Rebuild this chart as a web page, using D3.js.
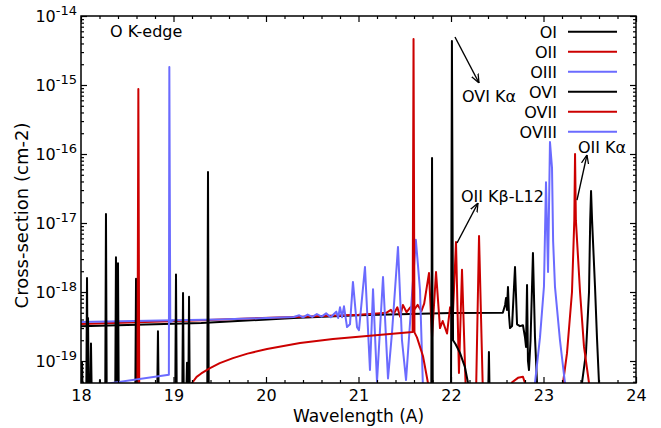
<!DOCTYPE html>
<html>
<head>
<meta charset="utf-8">
<script src="https://cdn.jsdelivr.net/npm/d3@7"></script>
<style>
body { margin: 0; background: #fff; }
text { font-family: "DejaVu Sans", sans-serif; fill: #000; }
</style>
</head>
<body>
<div id="chart"></div>
<script>
// ---- data ----
const seriesNames = ["OI", "OII", "OIII", "OVI", "OVII", "OVIII"];
const seriesColors = ["#000000", "#cc0000", "#6b6bff", "#000000", "#cc0000", "#6b6bff"];
const xTicks = [18, 19, 20, 21, 22, 23, 24];
const yTickExp = [-19, -18, -17, -16, -15, -14];
const floorValue = 3e-20; // below the plotted range

const oI = [[18.0, 3.2e-19], [19.3, 3.55e-19], [20.3, 4.2e-19], [21.0, 4.6e-19], [22.0, 4.97e-19], [22.56, 5.0e-19],
    [22.585, 6.5e-19], [22.595, 8.2e-19], [22.605, 5.5e-19], [22.616, 1.18e-18], [22.627, 4.6e-19], [22.638, 3.0e-19],
    [22.66, 3.2e-19], [22.692, 2.3e-18], [22.714, 3.4e-19], [22.746, 3.2e-19], [22.778, 3.3e-19], [22.80, 2.2e-19],
    [22.811, 1.6e-19], [22.822, 1.26e-18], [22.832, 1.0e-19], [22.843, 7.4e-20], [22.86, 2.0e-19], [22.886, 3.67e-18],
    [22.908, 2.2e-19], [22.93, 4.8e-20], [22.95, 3e-20], [23.40, 3e-20], [23.416, 4.8e-20], [23.459, 1.3e-19],
    [23.492, 1.0e-18], [23.505, 1.1e-17], [23.514, 2.9e-17], [23.525, 1.1e-17], [23.557, 1.18e-18], [23.578, 2.2e-19],
    [23.6, 4.8e-20], [23.62, 3e-20], [24, 3e-20]];

const oII = [[18.0, 3.44e-19], [19.3, 3.9e-19], [20.3, 4.35e-19], [21.0, 4.7e-19], [21.2, 4.9e-19], [21.3, 5.0e-19],
    [21.35, 5.5e-19], [21.38, 4.8e-19], [21.42, 6.0e-19], [21.45, 4.4e-19], [21.48, 6.5e-19], [21.52, 5.1e-19],
    [21.56, 6.0e-19], [21.60, 5.5e-19], [21.64, 6.5e-19], [21.68, 5.3e-19], [21.71, 6.8e-19], [21.762, 1.88e-18],
    [21.795, 2.2e-19], [21.838, 1.95e-18], [21.881, 3.0e-19], [21.91, 3.8e-19], [21.957, 2.5e-19], [21.99, 6.0e-19],
    [22.02, 4.5e-19], [22.054, 5.3e-18], [22.086, 6.7e-20], [22.119, 2.1e-18], [22.162, 3e-20], [22.27, 3e-20],
    [22.303, 6.5e-18], [22.346, 3e-20], [23.19, 3e-20], [23.211, 4.8e-20], [23.254, 1.3e-19], [23.308, 1.0e-18],
    [23.333, 1.1e-17], [23.341, 1.0e-16], [23.35, 1.1e-17], [23.395, 1.0e-18], [23.438, 1.6e-19], [23.492, 4.8e-20],
    [23.52, 3e-20], [24, 3e-20]];

const oIII = [[18.0, 3.67e-19], [19.0, 3.9e-19], [19.5, 4.0e-19], [20.0, 4.2e-19], [20.3, 4.35e-19], [20.36, 4.6e-19],
    [20.4, 4.3e-19], [20.45, 4.7e-19], [20.5, 4.35e-19], [20.55, 4.8e-19], [20.6, 4.4e-19], [20.65, 4.9e-19],
    [20.7, 4.3e-19], [20.724, 4.64e-19], [20.76, 5.2e-19], [20.78, 4.2e-19], [20.8, 6.0e-19], [20.822, 4.3e-19],
    [20.843, 6.2e-19], [20.876, 3.1e-19], [20.908, 3.4e-19], [20.94, 1.4e-18], [20.984, 3.1e-19], [21.005, 2.8e-19],
    [21.07, 2.3e-18], [21.124, 7.4e-20], [21.157, 1.1e-18], [21.2, 5e-20], [21.265, 1.65e-18], [21.319, 5.6e-20],
    [21.362, 2.55e-19], [21.427, 4.5e-18], [21.47, 2.0e-19], [21.514, 5.3e-20], [21.62, 5.7e-18], [21.665, 1.07e-18],
    [21.70, 3e-20], [22.90, 3e-20], [22.908, 4.8e-20], [22.962, 2.2e-19], [23.005, 1.2e-18], [23.027, 3.9e-17],
    [23.049, 1.95e-18], [23.07, 1.49e-16], [23.092, 6.3e-17], [23.104, 5.5e-18], [23.124, 1.2e-18], [23.178, 2.0e-19],
    [23.232, 4.8e-20], [23.26, 3e-20], [24, 3e-20]];

// OVI: narrow lines (position, peak) plus the K-alpha line with its wing
const oviLines = [18.011, 18.065, 18.076, 18.108, 18.205, 18.27, 18.378, 18.40, 18.595, 18.832,
    19.027, 19.103, 19.146, 19.168, 19.373, 21.795, 22.41];
const oviPeaks = [9.7e-20, 1.6e-18, 4.2e-19, 1.8e-19, 5.3e-20, 1.35e-17, 3.2e-18, 2.6e-18, 1.55e-18, 2.7e-19,
    1.8e-18, 9.7e-19, 9.4e-20, 8.5e-19, 5.5e-17, 8.75e-17, 1.35e-19];
const oviKa = [[22.0, 3e-20], [22.01, 4.35e-15], [22.022, 2.0e-19], [22.05, 1.75e-19], [22.097, 1.31e-19],
    [22.15, 8.2e-20], [22.184, 4.8e-20], [22.2, 3e-20]];

const oVII = [[18.61, 3e-20], [18.62, 8.75e-16], [18.63, 3e-20], [19.18, 3e-20], [19.2, 4.8e-20], [19.25, 5.9e-20],
    [19.3, 6.6e-20], [19.395, 7.9e-20], [19.5, 9.3e-20], [19.643, 1.1e-19], [19.8, 1.28e-19], [20.011, 1.49e-19],
    [20.368, 1.82e-19], [20.724, 2.08e-19], [21.092, 2.3e-19], [21.585, 2.63e-19], [21.595, 4.64e-15], [21.605, 2.6e-19],
    [21.632, 2.2e-19], [21.697, 1.18e-19], [21.751, 4.8e-20], [21.77, 3e-20], [22.64, 3e-20], [22.66, 4.9e-20],
    [22.724, 5.7e-20], [22.778, 5.9e-20], [22.80, 4.8e-20], [22.82, 3e-20]];

const oVIII = [[18.28, 4.7e-20], [18.95, 6.3e-20], [18.955, 1.82e-15], [18.965, 3.67e-19], [19.0, 3.9e-19]];

const notes = [
    { text: "O K-edge", x: 18.314, y: 4.97e-15 },
    { text: "OVI Kα", x: 22.119, y: 5.68e-16 },
    { text: "OII Kβ-L12", x: 22.108, y: 2.01e-17 },
    { text: "OII Kα", x: 23.373, y: 1.03e-16 }
];
const arrows = [
    { x1: 22.043, y1: 4.97e-15, x2: 22.303, y2: 1.07e-15 },
    { x1: 22.065, y1: 5.13e-18, x2: 22.292, y2: 1.95e-17 },
    { x1: 23.362, y1: 2.15e-17, x2: 23.47, y2: 9.7e-17 }
];

// ---- layout ----
const margin = { top: 16, right: 25, bottom: 45, left: 81 };
const width = 661 - margin.left - margin.right;
const height = 428 - margin.top - margin.bottom;

const svg = d3.select("#chart")
    .append("svg")
    .attr("width", 661)
    .attr("height", 428);

const defs = svg.append("defs");
defs.append("clipPath").attr("id", "clip")
    .append("rect").attr("width", width).attr("height", height);
defs.append("marker")
    .attr("id", "arrow")
    .attr("viewBox", "0 0 10 10")
    .attr("refX", 10).attr("refY", 5)
    .attr("markerWidth", 9).attr("markerHeight", 9)
    .attr("markerUnits", "userSpaceOnUse")
    .attr("orient", "auto")
    .append("path")
    .attr("d", "M0,1 L10,5 L0,9")
    .attr("fill", "none")
    .attr("stroke", "#000")
    .attr("stroke-width", 1.4);

const g = svg.append("g").attr("transform", `translate(${margin.left},${margin.top})`);

// Scales
const x = d3.scaleLinear().domain([18, 24]).range([0, width]);
const y = d3.scaleLog().domain([4.8e-20, 1e-14]).range([height, 0]);

// Build OVI path from line list
const oVI = [];
oviLines.forEach((w, i) => {
    oVI.push([w - 0.008, floorValue], [w, oviPeaks[i]], [w + 0.008, floorValue]);
});

const line = d3.line().x(d => x(d[0])).y(d => y(d[1]));
const plot = g.append("g").attr("clip-path", "url(#clip)");

const allSeries = [oI, oII, oIII, oVI, oVII, oVIII];
allSeries.forEach((s, i) => {
    plot.append("path")
        .datum(s)
        .attr("d", line)
        .attr("fill", "none")
        .attr("stroke", seriesColors[i])
        .attr("stroke-width", 2)
        .attr("stroke-linejoin", "round");
    if (i === 3) {
        plot.append("path")
            .datum(oviKa)
            .attr("d", line)
            .attr("fill", "none")
            .attr("stroke", seriesColors[i])
            .attr("stroke-width", 2)
            .attr("stroke-linejoin", "round");
    }
});

// Axes (ticks pointing inward, mirrored)
const xMinor = d3.range(18, 24.001, 0.2).filter(v => Math.abs(v - Math.round(v)) > 1e-6);
const yMajor = yTickExp.map(e => Math.pow(10, e));
const yMinor = [];
[-20, -19, -18, -17, -16, -15].forEach(e => {
    for (let m = 2; m <= 9; m++) {
        const v = m * Math.pow(10, e);
        if (v > 4.8e-20 && v < 1e-14) yMinor.push(v);
    }
});

function styleAxis(sel) {
    sel.select(".domain").remove();
    sel.selectAll("line").attr("stroke", "#000").attr("stroke-width", 1.2);
    sel.selectAll("text").style("font-size", "16px").style("font-family", "DejaVu Sans, sans-serif");
}

g.append("g").attr("transform", `translate(0,${height})`)
    .call(d3.axisBottom(x).tickValues(xTicks).tickSize(-6).tickPadding(7).tickFormat(d3.format("d")))
    .call(styleAxis);
g.append("g").attr("transform", `translate(0,${height})`)
    .call(d3.axisBottom(x).tickValues(xMinor).tickSize(-3).tickFormat(""))
    .call(styleAxis);
g.append("g")
    .call(d3.axisTop(x).tickValues(xTicks).tickSize(-6).tickFormat(""))
    .call(styleAxis);
g.append("g")
    .call(d3.axisTop(x).tickValues(xMinor).tickSize(-3).tickFormat(""))
    .call(styleAxis);
g.append("g")
    .call(d3.axisLeft(y).tickValues(yMajor).tickSize(-6).tickFormat(""))
    .call(styleAxis);
g.append("g")
    .call(d3.axisLeft(y).tickValues(yMinor).tickSize(-3).tickFormat(""))
    .call(styleAxis);
g.append("g").attr("transform", `translate(${width},0)`)
    .call(d3.axisRight(y).tickValues(yMajor).tickSize(-6).tickFormat(""))
    .call(styleAxis);
g.append("g").attr("transform", `translate(${width},0)`)
    .call(d3.axisRight(y).tickValues(yMinor).tickSize(-3).tickFormat(""))
    .call(styleAxis);

// y tick labels as 10^n
yTickExp.forEach(e => {
    const t = g.append("text")
        .attr("x", -4)
        .attr("y", y(Math.pow(10, e)) + 6)
        .attr("text-anchor", "end")
        .style("font-size", "16px");
    t.append("tspan").text("10");
    t.append("tspan").attr("dy", -7).style("font-size", "13px").text(String(e));
});

// frame
g.append("rect")
    .attr("width", width)
    .attr("height", height)
    .attr("fill", "none")
    .attr("stroke", "#000")
    .attr("stroke-width", 1.5);

// Axis titles
g.append("text")
    .attr("x", width / 2)
    .attr("y", height + 39)
    .attr("text-anchor", "middle")
    .style("font-size", "17px")
    .text("Wavelength (A)");

g.append("text")
    .attr("transform", `translate(${-53}, ${height / 2 + 16}) rotate(-90)`)
    .attr("text-anchor", "middle")
    .style("font-size", "18px")
    .text("Cross-section (cm-2)");

// Annotations
notes.forEach(n => {
    g.append("text")
        .attr("x", x(n.x))
        .attr("y", y(n.y))
        .style("font-size", "16px")
        .text(n.text);
});
arrows.forEach(a => {
    g.append("line")
        .attr("x1", x(a.x1)).attr("y1", y(a.y1))
        .attr("x2", x(a.x2)).attr("y2", y(a.y2))
        .attr("stroke", "#000")
        .attr("stroke-width", 1.4)
        .attr("marker-end", "url(#arrow)");
});

// Legend
const legend = g.append("g").attr("transform", `translate(${557 - margin.left},${31.7 - margin.top})`);
seriesNames.forEach((name, i) => {
    legend.append("text")
        .attr("x", 0)
        .attr("y", i * 20 + 6)
        .attr("text-anchor", "end")
        .style("font-size", "16px")
        .text(name);
    legend.append("line")
        .attr("x1", 11).attr("x2", 60)
        .attr("y1", i * 20).attr("y2", i * 20)
        .attr("stroke", seriesColors[i])
        .attr("stroke-width", 2);
});
</script>
</body>
</html>
